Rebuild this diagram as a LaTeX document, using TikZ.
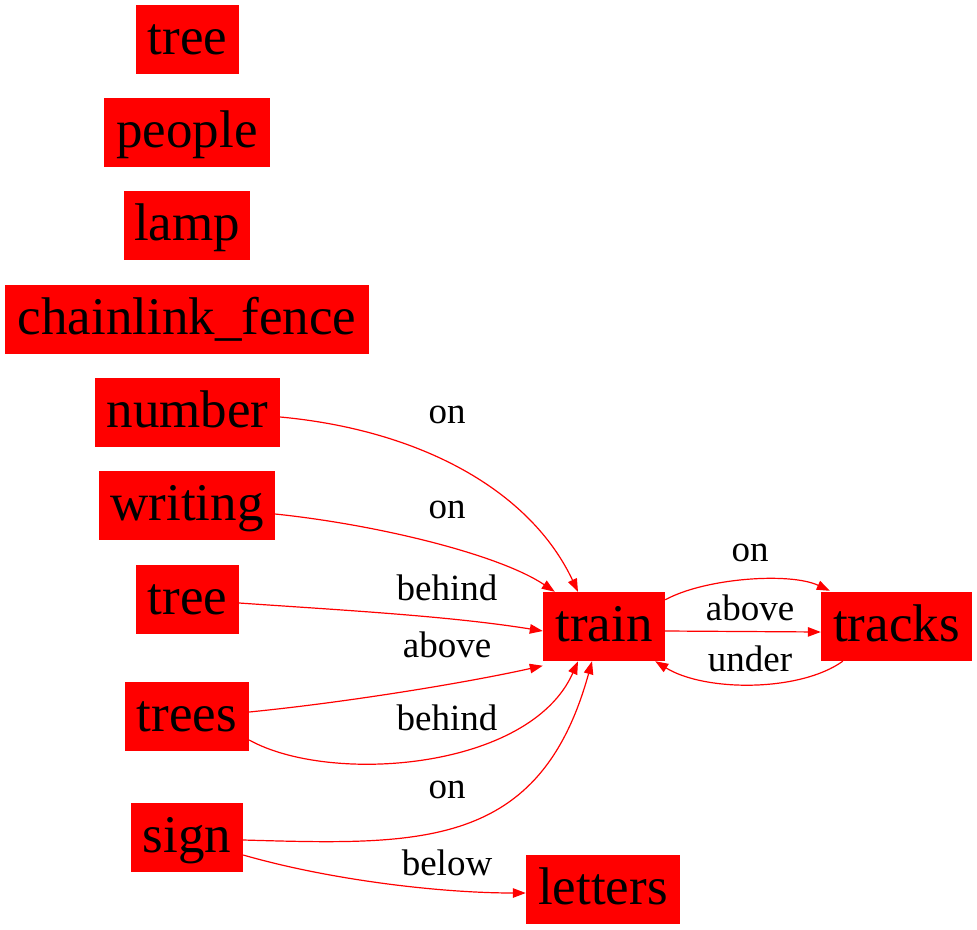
\documentclass[tikz,border=0pt]{standalone}
\usepackage{fontspec}
\setmainfont{Liberation Serif}
\usetikzlibrary{arrows.meta}
\begin{document}
\begin{tikzpicture}[x=1pt,y=-1pt,
  obj/.style={fill=red,draw=none,inner sep=0pt,minimum height=69pt,
    font=\fontsize{53}{60}\selectfont,text height=38pt,text depth=9pt},
  rel/.style={draw=red,line width=1.2pt,-{Triangle[length=13pt,width=9.5pt]}},
  lab/.style={font=\fontsize{37}{42}\selectfont,inner sep=0pt}]
\useasboundingbox (0,0) rectangle (977,929);
\node[obj,minimum width=103pt] (tree1) at (187.5,39.5) {tree};
\node[obj,minimum width=166pt] (people) at (187,132.5) {people};
\node[obj,minimum width=126pt] (lamp) at (187,225.5) {lamp};
\node[obj,minimum width=364pt] (fence) at (187,319.5) {chainlink\_fence};
\node[obj,minimum width=185pt] (number) at (187.5,412.5) {number};
\node[obj,minimum width=176pt] (writing) at (187,505.5) {writing};
\node[obj,minimum width=103pt] (tree2) at (187.5,599.5) {tree};
\node[obj,minimum width=124pt] (trees) at (187,716.5) {trees};
\node[obj,minimum width=112pt] (sign) at (187,837.5) {sign};
\node[obj,minimum width=122pt] (train) at (604,626.5) {train};
\node[obj,minimum width=151pt] (tracks) at (896.5,626.5) {tracks};
\node[obj,minimum width=154pt] (letters) at (603,889.5) {letters};

\draw[rel] ([yshift=-4.5pt]number.east) .. controls (420,430) and (530,490) .. ([xshift=-26pt]train.north);
\node[lab] (l1) at (447,415) {on};
\draw[rel] ([yshift=-8.5pt]writing.east) .. controls (380,525) and (500,555) .. ([xshift=12pt]train.north west);
\node[lab] (l2) at (447,510) {on};
\draw[rel] ([yshift=-3.5pt]tree2.east) .. controls (340,610) and (450,616) .. ([yshift=-4.5pt]train.west);
\node[lab] (l3) at (447,588) {behind};
\draw[rel] ([yshift=4.5pt]trees.east) .. controls (350,702) and (470,682) .. ([yshift=-4.5pt]train.south west);
\node[lab] (l4) at (447,645) {above};
\draw[rel] ([yshift=-23.5pt]trees.east) .. controls (330,785) and (530,770) .. ([xshift=-26pt]train.south);
\node[lab] (l5) at (447,718) {behind};
\draw[rel] ([yshift=-2.5pt]sign.east) .. controls (420,845) and (540,850) .. ([xshift=-12pt]train.south);
\node[lab] (l6) at (447,790) {on};
\draw[rel] ([yshift=-17.5pt]sign.east) .. controls (330,880) and (440,893) .. ([yshift=-3.5pt]letters.west);
\node[lab] (l7) at (447,863) {below};

\draw[rel] ([yshift=-8pt]train.north east) .. controls (705,578) and (790,572) .. ([xshift=9pt,yshift=1pt]tracks.north west);
\node[lab] (l8) at (750,553) {on};
\draw[rel] ([yshift=-4.5pt]train.east) -- ([yshift=-5.5pt]tracks.west);
\node[lab] (l9) at (750,608) {above};
\draw[rel] ([xshift=22pt]tracks.south west) .. controls (800,692) and (705,692) .. ([xshift=-10pt]train.south east);
\node[lab] (l10) at (750,659) {under};
\end{tikzpicture}
\end{document}
